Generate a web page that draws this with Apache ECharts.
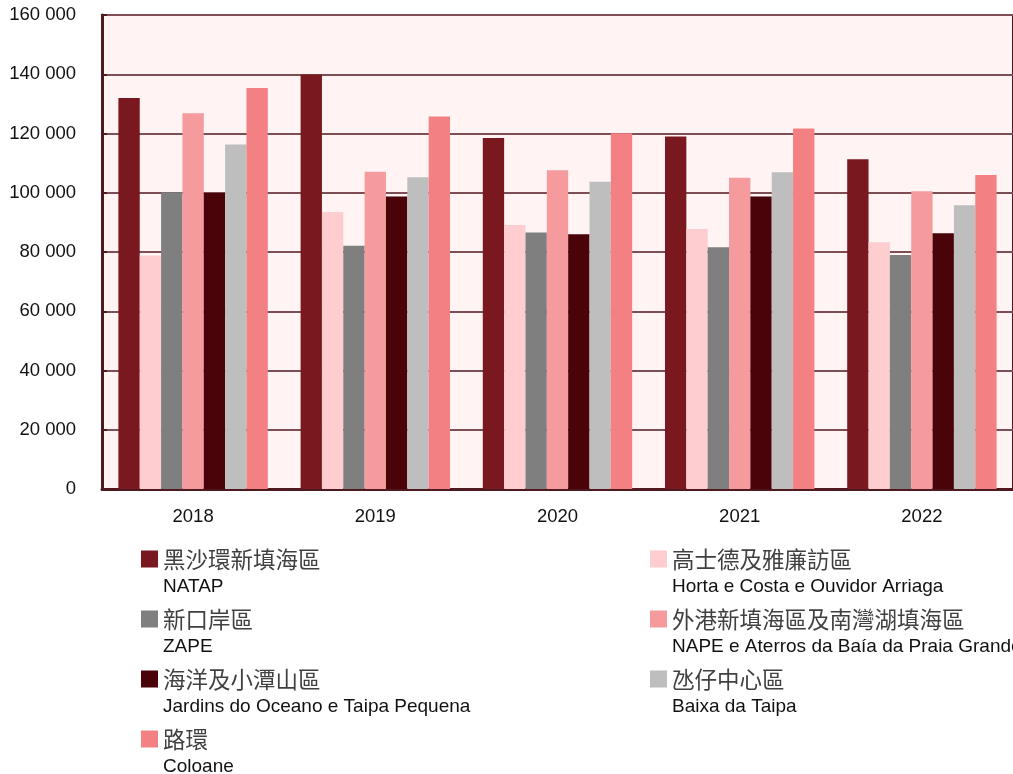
<!DOCTYPE html>
<html lang="zh-Hant">
<head>
    <meta charset="UTF-8">
    <script src="https://cdn.jsdelivr.net/npm/echarts@6/dist/echarts.min.js"></script>
    <title>Chart</title>
    <style>
        html, body { margin: 0; padding: 0; background: #ffffff; }
    </style>
</head>
<body>
<div id="main" style="width: 1013px;height:774px;"></div>
<script type="text/javascript">
    // 年份
    var years = ['2018', '2019', '2020', '2021', '2022'];

    // 各區名稱（中文 / 葡文）
    var namesCn = ['黑沙環新填海區', '高士德及雅廉訪區', '新口岸區', '外港新填海區及南灣湖填海區', '海洋及小潭山區', '氹仔中心區', '路環'];
    var namesPt = ['NATAP', 'Horta e Costa e Ouvidor Arriaga', 'ZAPE', 'NAPE e Aterros da Baía da Praia Grande', 'Jardins do Oceano e Taipa Pequena', 'Baixa da Taipa', 'Coloane'];

    // 數據
    var natap   = [132000, 139900, 118500, 119000, 111300];
    var horta   = [78800, 93500, 89100, 87800, 83300];
    var zape    = [100200, 82100, 86600, 81600, 79000];
    var nape    = [126800, 107100, 107600, 105100, 100500];
    var jardins = [99900, 98700, 86000, 98700, 86300];
    var baixa   = [116300, 105200, 103700, 106900, 95800];
    var coloane = [135400, 125700, 120100, 121700, 106000];

    var yTicks = [0, 20000, 40000, 60000, 80000, 100000, 120000, 140000, 160000];

    var colors = ['#7a1820', '#fdcdd0', '#7f7f7f', '#f59b9e', '#4a0409', '#bebebe', '#f38184'];
    var allData = [natap, horta, zape, nape, jardins, baixa, coloane];

    var axisFont = '"Liberation Sans", Arial, sans-serif';

    var myChart = echarts.init(document.getElementById('main'));

    function fmtThousands(v) {
        return String(v).replace(/\B(?=(\d{3})+(?!\d))/g, ' ');
    }

    var series = allData.map(function (d, i) {
        return {
            name: namesCn[i],
            type: 'bar',
            data: d,
            barGap: '0%',
            barCategoryGap: '18%',
            itemStyle: { color: colors[i] },
            emphasis: { disabled: true }
        };
    });

    // 圖例方塊放在第一行旁邊（兩行文字）
    var legendIcon = 'path://M0,0h0.01v0.01h-0.01z M0,5.5h17v17h-17z M0,55.99h0.01v0.01h-0.01z';

    function legendOf(idx, left) {
        return {
            orient: 'vertical',
            left: left,
            top: 545,
            height: 260,
            padding: 0,
            itemGap: 4,
            itemWidth: 17,
            itemHeight: 56,
            icon: legendIcon,
            selectedMode: false,
            data: idx.map(function (i) { return namesCn[i]; }),
            formatter: function (name) {
                var i = namesCn.indexOf(name);
                return '{cn|' + name + '}\n{en|' + namesPt[i] + '}';
            },
            textStyle: {
                rich: {
                    cn: {
                        fontFamily: '"Noto Sans CJK TC"',
                        fontSize: 22.5,
                        lineHeight: 28,
                        color: '#404040'
                    },
                    en: {
                        fontFamily: axisFont,
                        fontSize: 19,
                        lineHeight: 28,
                        color: '#111111'
                    }
                }
            }
        };
    }

    var option = {
        animation: false,
        grid: {
            left: 102,
            right: 0,
            top: 15,
            bottom: 285,
            show: true,
            backgroundColor: '#fff3f3',
            borderColor: '#4e1a20',
            borderWidth: 2
        },
        legend: [
            legendOf([0, 2, 4, 6], 141),
            legendOf([1, 3, 5], 650)
        ],
        xAxis: {
            type: 'category',
            data: years,
            axisLine: { lineStyle: { color: '#4e1a20', width: 3 } },
            axisTick: { inside: true, length: 5, lineStyle: { color: '#4e1a20', width: 2 } },
            axisLabel: {
                margin: 18,
                fontFamily: axisFont,
                fontSize: 18.5,
                color: '#111111'
            }
        },
        yAxis: {
            type: 'value',
            min: yTicks[0],
            max: yTicks[yTicks.length - 1],
            interval: yTicks[1] - yTicks[0],
            axisLine: { show: true, lineStyle: { color: '#4e1a20', width: 3 } },
            axisTick: { show: true, inside: true, length: 5, lineStyle: { color: '#4e1a20', width: 2 } },
            splitLine: { lineStyle: { color: '#7d4f55', width: 2 } },
            axisLabel: {
                margin: 26,
                fontFamily: axisFont,
                fontSize: 18.5,
                color: '#111111',
                formatter: fmtThousands
            }
        },
        series: series
    };

    myChart.setOption(option);
</script>
</body>
</html>
